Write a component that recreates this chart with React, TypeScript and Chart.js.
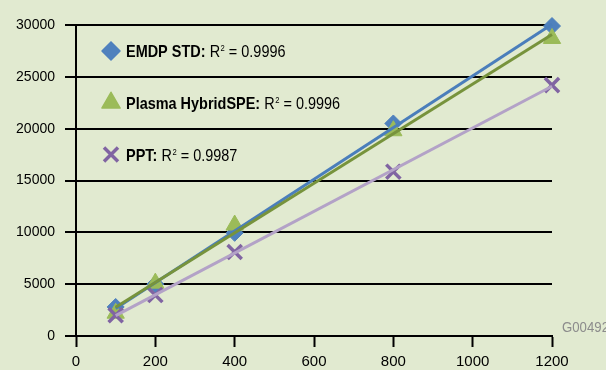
import React, { useEffect, useRef } from "react";
import { Chart, registerables } from "chart.js";

Chart.register(...registerables);

// ---- data ----
const xValues = [100, 200, 400, 800, 1200];
const emdpStd = [2800, 5000, 9950, 20500, 29900];
const plasmaHybridSpe = [2200, 5100, 10700, 19800, 28700];
const ppt = [2000, 3950, 8100, 15850, 24200];
const seriesNames = ["EMDP STD", "Plasma HybridSPE", "PPT"];
const rSquaredLabels = ["0.9996", "0.9996", "0.9987"];
const figureCode = "G004920";

const NARROW = '"Liberation Sans Narrow", "Arial Narrow", "Liberation Sans", sans-serif';
const BG = "rgb(225,234,208)";
const markerColors = ["#4F81BD", "#9BBB59", "#8064A2"];
const lineColors = ["#4A7EBB", "#77933C", "#B3A2C7"];
const markerStyles = ["rectRot", "triangle", "crossRot"];

function trend(xs: number[], ys: number[]) {
  const n = xs.length;
  const mx = xs.reduce((a, b) => a + b, 0) / n;
  const my = ys.reduce((a, b) => a + b, 0) / n;
  let sxy = 0, sxx = 0;
  for (let i = 0; i < n; i++) {
    sxy += (xs[i] - mx) * (ys[i] - my);
    sxx += (xs[i] - mx) * (xs[i] - mx);
  }
  const slope = sxy / sxx;
  const b = my - slope * mx;
  const x0 = Math.min(...xs), x1 = Math.max(...xs);
  return [
    { x: x0, y: slope * x0 + b },
    { x: x1, y: slope * x1 + b },
  ];
}

function drawMarker(ctx: CanvasRenderingContext2D, kind: number, x: number, y: number) {
  ctx.save();
  ctx.fillStyle = markerColors[kind];
  ctx.strokeStyle = markerColors[kind];
  ctx.lineJoin = "round";
  if (kind === 0) {
    const r = 9;
    ctx.beginPath();
    ctx.moveTo(x, y - r);
    ctx.lineTo(x + r, y);
    ctx.lineTo(x, y + r);
    ctx.lineTo(x - r, y);
    ctx.closePath();
    ctx.lineWidth = 1.5;
    ctx.fill();
    ctx.stroke();
  } else if (kind === 1) {
    const r = 10.5;
    ctx.beginPath();
    ctx.moveTo(x, y - r);
    ctx.lineTo(x + r * Math.sin((2 * Math.PI) / 3), y + r * 0.5);
    ctx.lineTo(x - r * Math.sin((2 * Math.PI) / 3), y + r * 0.5);
    ctx.closePath();
    ctx.lineWidth = 1.5;
    ctx.fill();
    ctx.stroke();
  } else {
    const d = 7;
    ctx.lineWidth = 3.5;
    ctx.beginPath();
    ctx.moveTo(x - d, y - d);
    ctx.lineTo(x + d, y + d);
    ctx.moveTo(x + d, y - d);
    ctx.lineTo(x - d, y + d);
    ctx.stroke();
  }
  ctx.restore();
}

const bgPlugin = {
  id: "bgFill",
  beforeDraw(chart: any) {
    const ctx = chart.ctx;
    ctx.save();
    ctx.fillStyle = BG;
    ctx.fillRect(0, 0, chart.width, chart.height);
    ctx.restore();
  },
};

const SQUEEZE = 0.85;

const legendPlugin = {
  id: "innerLegend",
  afterDatasetsDraw(chart: any) {
    const ctx: CanvasRenderingContext2D = chart.ctx;
    const ys = chart.scales.y;
    const area = chart.chartArea;
    const rowValues = [27500, 22500, 17500];
    ctx.save();
    for (let i = 0; i < seriesNames.length; i++) {
      const cy = ys.getPixelForValue(rowValues[i]);
      drawMarker(ctx, i, area.left + 35, cy);
      const x0 = area.left + 50;
      const by = cy + 6;
      ctx.save();
      ctx.translate(x0, by);
      ctx.scale(SQUEEZE, 1);
      let tx = 0;
      ctx.fillStyle = "#000";
      ctx.textBaseline = "alphabetic";
      ctx.textAlign = "left";
      ctx.font = `bold 17px ${NARROW}`;
      const lbl = seriesNames[i] + ":";
      ctx.fillText(lbl, tx, 0);
      tx += ctx.measureText(lbl).width + 5;
      ctx.font = `17px ${NARROW}`;
      ctx.fillText("R", tx, 0);
      tx += ctx.measureText("R").width + 0.5;
      ctx.font = `9px ${NARROW}`;
      ctx.fillText("2", tx, -5.5);
      tx += ctx.measureText("2").width;
      ctx.font = `17px ${NARROW}`;
      ctx.fillText(" = " + rSquaredLabels[i], tx, 0);
      ctx.restore();
    }
    // figure code
    ctx.save();
    ctx.font = `15px ${NARROW}`;
    ctx.fillStyle = "#8c8c8c";
    ctx.textBaseline = "middle";
    ctx.translate(area.right + 10, ys.getPixelForValue(0) - 8);
    ctx.scale(0.88, 1);
    ctx.fillText(figureCode, 0, 0);
    ctx.restore();
    ctx.restore();
  },
};

export default function App() {
  const ref = useRef<HTMLCanvasElement | null>(null);
  useEffect(() => {
    if (!ref.current) return;
    const seriesList = [emdpStd, plasmaHybridSpe, ppt];
    const markerSets = seriesList.map((vals, i) => ({
      type: "scatter" as const,
      label: seriesNames[i],
      data: xValues.map((x, k) => ({ x, y: vals[k] })),
      showLine: false,
      pointStyle: markerStyles[i],
      pointRadius: i === 0 ? 8.5 : 10,
      pointBorderWidth: i === 2 ? 3.5 : 1,
      pointBackgroundColor: markerColors[i],
      pointBorderColor: markerColors[i],
      borderColor: markerColors[i],
      backgroundColor: markerColors[i],
      order: 6 - i,
      clip: false as any,
    }));
    const lineSets = seriesList.map((vals, i) => ({
      type: "line" as const,
      label: seriesNames[i] + " trend",
      data: trend(xValues, vals),
      borderColor: lineColors[i],
      borderWidth: 3,
      pointRadius: 0,
      fill: false,
      tension: 0,
      order: 3 - i,
      clip: false as any,
    }));
    const plain = (v: any) => String(v);
    const chart = new Chart(ref.current, {
      type: "scatter",
      data: { datasets: [...markerSets, ...lineSets] as any },
      options: {
        animation: false,
        responsive: false,
        devicePixelRatio: 1,
        layout: { padding: { top: 25, right: 54, left: 0, bottom: 0 } },
        plugins: { legend: { display: false }, tooltip: { enabled: false } },
        scales: {
          x: {
            type: "linear",
            min: 0,
            max: 1200,
            ticks: { stepSize: 200, color: "#000", font: { family: NARROW, size: 15 }, padding: 6, maxRotation: 0, callback: plain },
            grid: { drawOnChartArea: false, drawTicks: true, tickLength: 11, tickWidth: 2, tickColor: "#000" },
            border: { display: true, color: "#000", width: 2 },
            afterFit(scale: any) {
              scale.height = 34;
            },
          },
          y: {
            type: "linear",
            min: 0,
            max: 30000,
            ticks: { stepSize: 5000, color: "#000", font: { family: NARROW, size: 14 }, padding: 10, callback: plain },
            grid: { color: "#000", lineWidth: 2, drawTicks: true, tickLength: 11, tickWidth: 2, tickColor: "#000" },
            border: { display: true, color: "#000", width: 2 },
            afterFit(scale: any) {
              scale.width = 76;
            },
          },
        },
      } as any,
      plugins: [bgPlugin, legendPlugin],
    });
    return () => chart.destroy();
  }, []);
  return (
    <div style={{ position: "fixed", left: 0, top: 0, width: 606, height: 370, background: BG }}>
      <canvas ref={ref} width={606} height={370} style={{ display: "block", width: 606, height: 370 }} />
    </div>
  );
}
